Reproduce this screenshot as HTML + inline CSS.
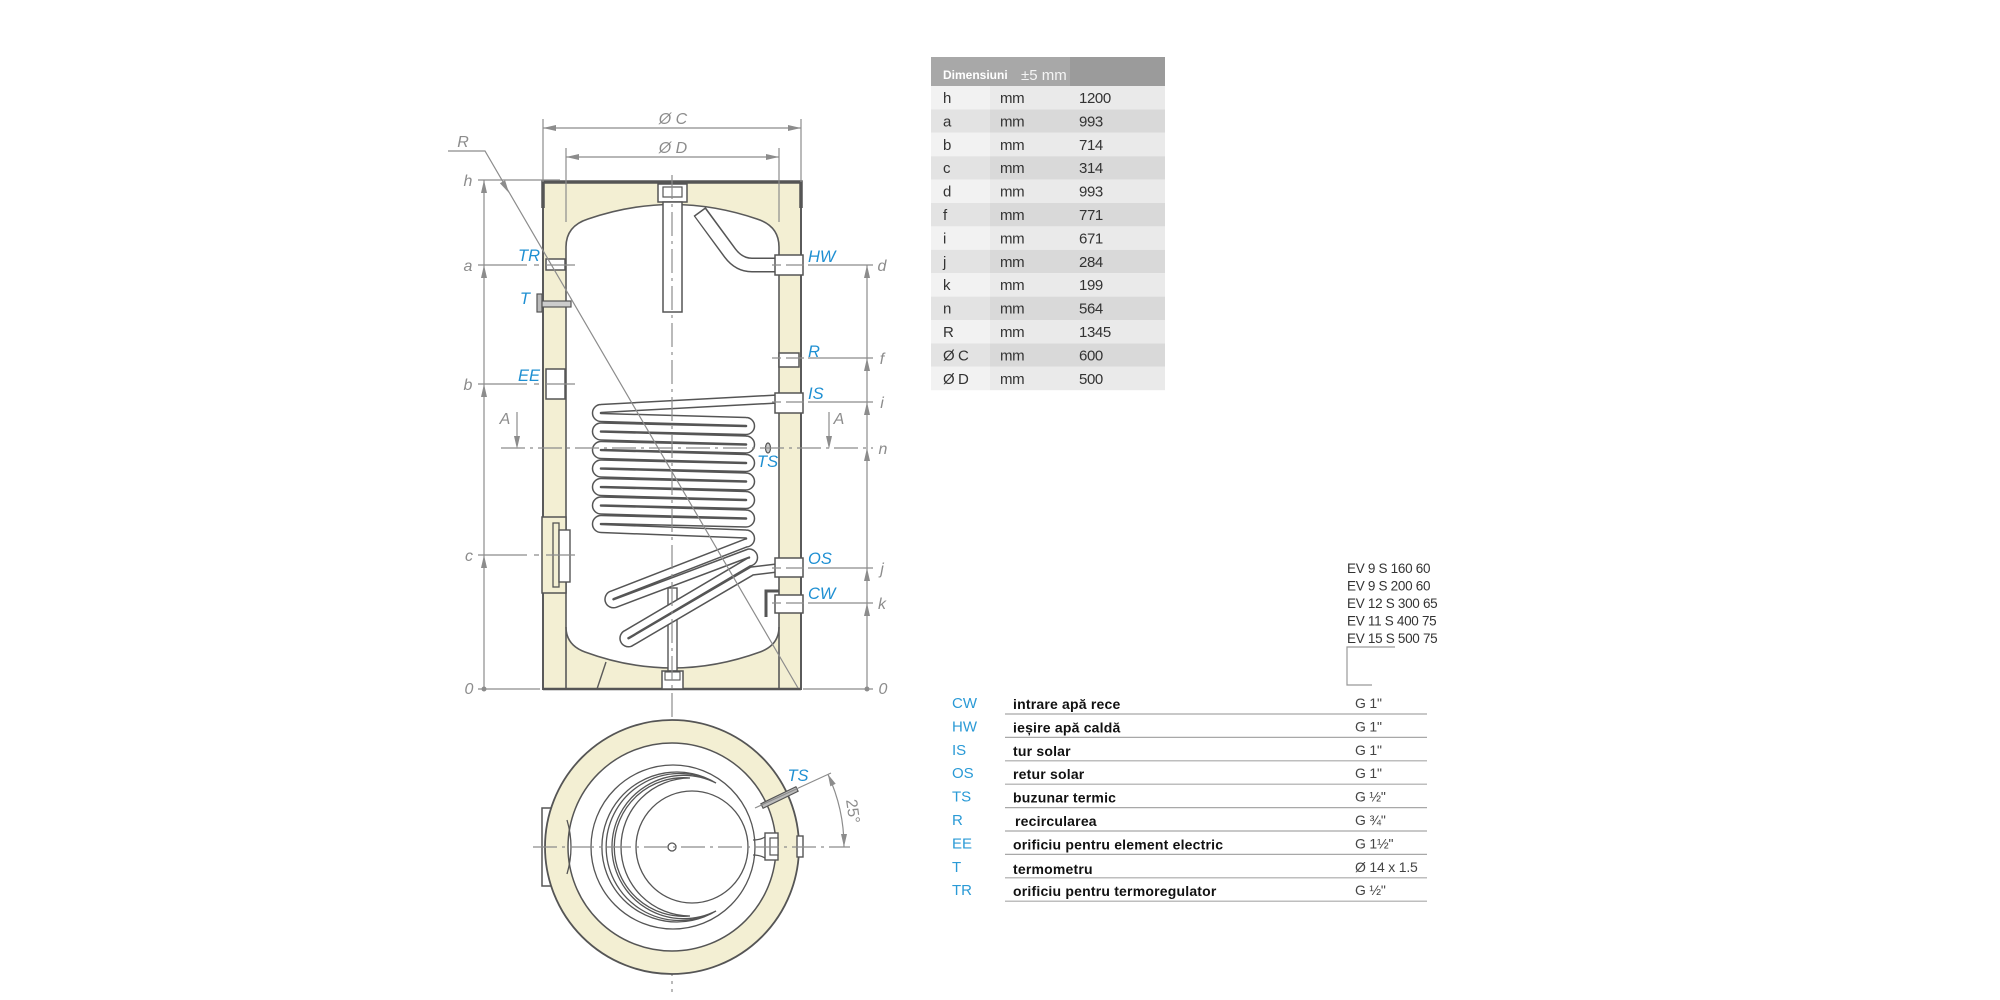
<!DOCTYPE html>
<html><head><meta charset="utf-8">
<style>
html,body{margin:0;padding:0;background:#fff;}
svg{display:block;}
</style></head><body>
<svg width="2000" height="1000" viewBox="0 0 2000 1000" xmlns="http://www.w3.org/2000/svg" font-family="'Liberation Sans', sans-serif">
<rect width="2000" height="1000" fill="#fff"/>

<!-- ===================== SIDE VIEW ===================== -->
<rect x="543" y="182" width="258" height="507" fill="#f3efd3" stroke="#5a5a5a" stroke-width="2"/>
<path d="M566 627 L566 247 Q566 226 588 219 Q672 190 757 219 Q779 226 779 247 L779 627 Q779 645 760 652 Q672 684 585 652 Q566 645 566 627 Z" fill="#fff" stroke="#5a5a5a" stroke-width="1.6"/>
<line x1="566" y1="627" x2="566" y2="689" stroke="#5a5a5a" stroke-width="1.6"/>
<line x1="779" y1="627" x2="779" y2="689" stroke="#5a5a5a" stroke-width="1.6"/>
<line x1="606" y1="662" x2="597" y2="689" stroke="#5a5a5a" stroke-width="1.4"/>
<line x1="543" y1="689" x2="801" y2="689" stroke="#555" stroke-width="2.5"/>
<path d="M543 208 L543 182 L801 182 L801 208" fill="none" stroke="#555" stroke-width="3.5"/>

<rect x="658" y="184" width="29" height="18" fill="#fff" stroke="#555" stroke-width="1.5"/>
<rect x="663" y="187" width="19" height="10" fill="none" stroke="#555" stroke-width="1.2"/>
<rect x="663" y="202" width="19" height="110" fill="#fff" stroke="#555" stroke-width="1.5"/>

<path d="M776 265 L752 265 Q739 265 730 253 L700 212" fill="none" stroke="#555" stroke-width="15" stroke-linejoin="round"/>
<path d="M777 265 L752 265 Q739 265 730 253 L699 211" fill="none" stroke="#fff" stroke-width="12" stroke-linejoin="round"/>
<line x1="694" y1="216.4" x2="706" y2="207.6" stroke="#555" stroke-width="1.5"/>

<rect x="668" y="588" width="9" height="83" fill="#fff" stroke="#555" stroke-width="1.4"/>
<rect x="662" y="671" width="21" height="18" fill="#fff" stroke="#555" stroke-width="1.5"/>
<rect x="665" y="672" width="15" height="8" fill="none" stroke="#555" stroke-width="1.1"/>

<!-- coil -->
<path d="M778 399 L601 408.5 A4.5 4.5 0 0 0 601 417.5 L746 421.5 A4.5 4.5 0 0 1 746 430.5
L601 427 A4.5 4.5 0 0 0 601 436 L746 440 A4.5 4.5 0 0 1 746 449
L601 445.5 A4.5 4.5 0 0 0 601 454.5 L746 458.5 A4.5 4.5 0 0 1 746 467.5
L601 464 A4.5 4.5 0 0 0 601 473 L746 477 A4.5 4.5 0 0 1 746 486
L601 482.5 A4.5 4.5 0 0 0 601 491.5 L746 495.5 A4.5 4.5 0 0 1 746 504.5
L601 501 A4.5 4.5 0 0 0 601 510 L746 514 A4.5 4.5 0 0 1 746 523
L601 519.5 A4.5 4.5 0 0 0 601 528.5 L746 534 A4.5 4.5 0 0 1 746 543
L612 595 A4.5 4.5 0 0 0 615 603.5 L749 553 A4.5 4.5 0 0 1 749 562
L627 634 A4.5 4.5 0 0 0 630 642.5 L752 571 L777 568" fill="none" stroke="#555" stroke-width="9.5" stroke-linejoin="round"/>
<path d="M778 399 L601 408.5 A4.5 4.5 0 0 0 601 417.5 L746 421.5 A4.5 4.5 0 0 1 746 430.5
L601 427 A4.5 4.5 0 0 0 601 436 L746 440 A4.5 4.5 0 0 1 746 449
L601 445.5 A4.5 4.5 0 0 0 601 454.5 L746 458.5 A4.5 4.5 0 0 1 746 467.5
L601 464 A4.5 4.5 0 0 0 601 473 L746 477 A4.5 4.5 0 0 1 746 486
L601 482.5 A4.5 4.5 0 0 0 601 491.5 L746 495.5 A4.5 4.5 0 0 1 746 504.5
L601 501 A4.5 4.5 0 0 0 601 510 L746 514 A4.5 4.5 0 0 1 746 523
L601 519.5 A4.5 4.5 0 0 0 601 528.5 L746 534 A4.5 4.5 0 0 1 746 543
L612 595 A4.5 4.5 0 0 0 615 603.5 L749 553 A4.5 4.5 0 0 1 749 562
L627 634 A4.5 4.5 0 0 0 630 642.5 L752 571 L777 568" fill="none" stroke="#fff" stroke-width="6.5" stroke-linejoin="round"/>

<g fill="#fff" stroke="#555" stroke-width="1.5">
<rect x="546" y="259" width="19" height="11"/>
<rect x="546" y="369" width="19" height="30"/>
<rect x="775" y="255" width="28" height="20"/>
<rect x="779" y="353" width="20" height="14"/>
<rect x="775" y="393" width="28" height="20"/>
<rect x="775" y="558" width="28" height="19"/>
<rect x="775" y="595" width="28" height="18"/>
</g>
<rect x="537" y="294" width="5" height="18" fill="#bbb" stroke="#555" stroke-width="1.2"/>
<rect x="542" y="301" width="29" height="6" fill="#ccc" stroke="#555" stroke-width="1.2"/>
<ellipse cx="768" cy="448" rx="2.5" ry="5" fill="#ccc" stroke="#555" stroke-width="1.2"/>
<path d="M766 617 L766 591 L779 591" fill="none" stroke="#555" stroke-width="3"/>
<rect x="542" y="517" width="24" height="76" fill="#f3efd3" stroke="#555" stroke-width="1.5"/>
<rect x="553" y="523" width="6" height="64" fill="none" stroke="#555" stroke-width="1.3"/>
<rect x="559" y="530" width="11" height="52" fill="#fff" stroke="#555" stroke-width="1.4"/>

<!-- ===================== DIMENSIONS ===================== -->
<g stroke="#8c8c8c" stroke-width="1.2" fill="none">
<line x1="672" y1="175" x2="672" y2="992" stroke-dasharray="24 5 3 5"/>
<line x1="543" y1="119" x2="543" y2="182"/>
<line x1="801" y1="119" x2="801" y2="182"/>
<line x1="543" y1="128" x2="801" y2="128"/>
<line x1="566" y1="148" x2="566" y2="222"/>
<line x1="779" y1="148" x2="779" y2="222"/>
<line x1="566" y1="157" x2="779" y2="157"/>
<line x1="484" y1="180" x2="484" y2="689"/>
<line x1="478" y1="180" x2="560" y2="180"/>
<path d="M478 265 H527 M534 265 H539 M546 265 H575"/>
<path d="M478 384 H527 M534 384 H539 M546 384 H575"/>
<path d="M478 555 H527 M534 555 H539 M546 555 H575"/>
<line x1="478" y1="689" x2="540" y2="689"/>
<line x1="867" y1="265" x2="867" y2="689"/>
<path d="M772 265 H781 M786 265 H804 M808 265 H873"/>
<path d="M772 358 H781 M786 358 H804 M808 358 H873"/>
<path d="M772 402 H781 M786 402 H804 M808 402 H873"/>
<path d="M772 568 H781 M786 568 H804 M808 568 H873"/>
<path d="M772 603 H781 M786 603 H804 M808 603 H873"/>
<line x1="803" y1="689" x2="873" y2="689"/>
<line x1="501" y1="448" x2="873" y2="448" stroke-dasharray="24 5 3 5"/>
<line x1="517" y1="412" x2="517" y2="438"/>
<line x1="829" y1="412" x2="829" y2="438"/>
<path d="M448 151 L485 151 L798 688"/>
</g>
<g fill="#8c8c8c">
<polygon points="543,128 556,125 556,131"/>
<polygon points="801,128 788,125 788,131"/>
<polygon points="566,157 579,154 579,160"/>
<polygon points="779,157 766,154 766,160"/>
<polygon points="484,180 481,193 487,193"/>
<polygon points="484,265 481,278 487,278"/>
<polygon points="484,384 481,397 487,397"/>
<polygon points="484,555 481,568 487,568"/>
<circle cx="484" cy="689" r="2.5"/>
<polygon points="867,265 864,278 870,278"/>
<polygon points="867,358 864,371 870,371"/>
<polygon points="867,402 864,415 870,415"/>
<polygon points="867,448 864,461 870,461"/>
<polygon points="867,568 864,581 870,581"/>
<polygon points="867,603 864,616 870,616"/>
<circle cx="867" cy="689" r="2.5"/>
<polygon points="517,449 514,436 520,436"/>
<polygon points="829,449 826,436 832,436"/>
<polygon points="509,193 505.1,180.3 499.9,183.3"/>
</g>

<g fill="#8c8c8c" font-style="italic" font-size="16" text-anchor="middle">
<text x="673" y="124">Ø C</text>
<text x="673" y="153">Ø D</text>
<text x="463" y="147">R</text>
<text x="468" y="186">h</text>
<text x="468" y="271">a</text>
<text x="468" y="390">b</text>
<text x="469" y="561">c</text>
<text x="469" y="694">0</text>
<text x="882" y="271">d</text>
<text x="882" y="364">f</text>
<text x="882" y="408">i</text>
<text x="883" y="454">n</text>
<text x="882" y="574">j</text>
<text x="882" y="609">k</text>
<text x="883" y="694">0</text>
<text x="505" y="424">A</text>
<text x="839" y="424">A</text>
</g>
<g fill="#1e8fd2" font-style="italic" font-size="16.5">
<text x="540" y="261" text-anchor="end">TR</text>
<text x="530" y="304" text-anchor="end">T</text>
<text x="540" y="381" text-anchor="end">EE</text>
<text x="808" y="262">HW</text>
<text x="808" y="357">R</text>
<text x="808" y="399">IS</text>
<text x="757" y="467">TS</text>
<text x="808" y="564">OS</text>
<text x="808" y="599">CW</text>
</g>

<!-- ===================== BOTTOM VIEW ===================== -->
<rect x="542" y="808" width="10" height="78" fill="#fff" stroke="#555" stroke-width="1.5"/>
<circle cx="672" cy="847" r="127" fill="#f3efd3" stroke="#555" stroke-width="1.8"/>
<circle cx="672" cy="847" r="104" fill="#fff" stroke="#555" stroke-width="1.5"/>
<path d="M567 820 Q575 847 567 874" fill="none" stroke="#555" stroke-width="1.3"/>
<circle cx="673" cy="847" r="82" fill="none" stroke="#555" stroke-width="1.3"/>
<g fill="none" stroke="#555" stroke-width="1.3">
<path d="M716 783 A75 75 0 1 0 716 911 A71.7 71.7 0 1 1 716 783 Z"/>
<path d="M712 781 A73.5 73.5 0 1 0 712 913"/>
<path d="M690 778 A69 69 0 1 0 690 916 A69.3 69.3 0 1 1 690 778 Z"/>
<circle cx="692" cy="847" r="56"/>
<circle cx="672" cy="847" r="4"/>
<path d="M753 840 Q760 840 765 837 M753 855 Q760 855 765 858"/>
</g>
<rect x="765" y="833" width="13" height="27" fill="#fff" stroke="#555" stroke-width="1.4"/>
<rect x="770" y="838" width="8" height="17" fill="#fff" stroke="#555" stroke-width="1.2"/>
<rect x="797" y="836" width="6" height="21" fill="#fff" stroke="#555" stroke-width="1.4"/>
<polygon points="760.9,803.75 795.9,786.75 798.1,791.25 763.1,808.25" fill="#bbb" stroke="#555" stroke-width="1.2"/>
<g stroke="#8c8c8c" stroke-width="1.2" fill="none">
<line x1="533" y1="847" x2="850" y2="847" stroke-dasharray="24 5 3 5"/>
<line x1="755" y1="808" x2="831" y2="773"/>
<path d="M827.9 774.2 A172 172 0 0 1 844 847"/>
</g>
<g fill="#8c8c8c">
<polygon points="844,847 841,834 847,834"/>
<polygon points="827.9,774.2 835.7,783.8 830.3,786.4"/>
</g>
<text x="0" y="0" transform="translate(846 800) rotate(82)" fill="#8c8c8c" font-size="16">25°</text>
<text x="798" y="781" text-anchor="middle" fill="#1e8fd2" font-style="italic" font-size="16.5">TS</text>

<!-- ===================== DIMENSION TABLE ===================== -->
<rect x="931" y="57" width="139" height="29" fill="#a8a8a8"/>
<rect x="1070" y="57" width="95" height="29" fill="#9b9b9b"/>
<text x="943" y="79" fill="#fff" font-weight="bold" font-size="12">Dimensiuni</text>
<text x="1021" y="80" fill="#f4f4f4" font-size="15">±5 mm</text>
<g>
<rect x="931" y="86" width="59" height="23.4" fill="#f2f2f2"/><rect x="990" y="86" width="175" height="23.4" fill="#eaeaea"/>
<rect x="931" y="109.4" width="59" height="23.4" fill="#e3e3e3"/><rect x="990" y="109.4" width="175" height="23.4" fill="#d9d9d9"/>
<rect x="931" y="132.8" width="59" height="23.4" fill="#f2f2f2"/><rect x="990" y="132.8" width="175" height="23.4" fill="#eaeaea"/>
<rect x="931" y="156.2" width="59" height="23.4" fill="#e3e3e3"/><rect x="990" y="156.2" width="175" height="23.4" fill="#d9d9d9"/>
<rect x="931" y="179.6" width="59" height="23.4" fill="#f2f2f2"/><rect x="990" y="179.6" width="175" height="23.4" fill="#eaeaea"/>
<rect x="931" y="203" width="59" height="23.4" fill="#e3e3e3"/><rect x="990" y="203" width="175" height="23.4" fill="#d9d9d9"/>
<rect x="931" y="226.4" width="59" height="23.4" fill="#f2f2f2"/><rect x="990" y="226.4" width="175" height="23.4" fill="#eaeaea"/>
<rect x="931" y="249.8" width="59" height="23.4" fill="#e3e3e3"/><rect x="990" y="249.8" width="175" height="23.4" fill="#d9d9d9"/>
<rect x="931" y="273.2" width="59" height="23.4" fill="#f2f2f2"/><rect x="990" y="273.2" width="175" height="23.4" fill="#eaeaea"/>
<rect x="931" y="296.6" width="59" height="23.4" fill="#e3e3e3"/><rect x="990" y="296.6" width="175" height="23.4" fill="#d9d9d9"/>
<rect x="931" y="320" width="59" height="23.4" fill="#f2f2f2"/><rect x="990" y="320" width="175" height="23.4" fill="#eaeaea"/>
<rect x="931" y="343.4" width="59" height="23.4" fill="#e3e3e3"/><rect x="990" y="343.4" width="175" height="23.4" fill="#d9d9d9"/>
<rect x="931" y="366.8" width="59" height="23.4" fill="#f2f2f2"/><rect x="990" y="366.8" width="175" height="23.4" fill="#eaeaea"/>
</g>
<g fill="#333" font-size="15" letter-spacing="-0.4">
<text x="943" y="103">h</text><text x="1000" y="103">mm</text><text x="1079" y="103">1200</text>
<text x="943" y="126.4">a</text><text x="1000" y="126.4">mm</text><text x="1079" y="126.4">993</text>
<text x="943" y="149.8">b</text><text x="1000" y="149.8">mm</text><text x="1079" y="149.8">714</text>
<text x="943" y="173.2">c</text><text x="1000" y="173.2">mm</text><text x="1079" y="173.2">314</text>
<text x="943" y="196.6">d</text><text x="1000" y="196.6">mm</text><text x="1079" y="196.6">993</text>
<text x="943" y="220">f</text><text x="1000" y="220">mm</text><text x="1079" y="220">771</text>
<text x="943" y="243.4">i</text><text x="1000" y="243.4">mm</text><text x="1079" y="243.4">671</text>
<text x="943" y="266.8">j</text><text x="1000" y="266.8">mm</text><text x="1079" y="266.8">284</text>
<text x="943" y="290.2">k</text><text x="1000" y="290.2">mm</text><text x="1079" y="290.2">199</text>
<text x="943" y="313.6">n</text><text x="1000" y="313.6">mm</text><text x="1079" y="313.6">564</text>
<text x="943" y="337">R</text><text x="1000" y="337">mm</text><text x="1079" y="337">1345</text>
<text x="943" y="360.4">Ø C</text><text x="1000" y="360.4">mm</text><text x="1079" y="360.4">600</text>
<text x="943" y="383.8">Ø D</text><text x="1000" y="383.8">mm</text><text x="1079" y="383.8">500</text>
</g>

<!-- ===================== MODEL LIST ===================== -->
<g fill="#333" font-size="13.5" letter-spacing="-0.3">
<text x="1347" y="573">EV 9 S 160 60</text>
<text x="1347" y="590.5">EV 9 S 200 60</text>
<text x="1347" y="608">EV 12 S 300 65</text>
<text x="1347" y="625.5">EV 11 S 400 75</text>
<text x="1347" y="643">EV 15 S 500 75</text>
</g>
<path d="M1395 647 H1347 V685 H1372" fill="none" stroke="#999" stroke-width="1.2"/>

<!-- ===================== CONNECTIONS TABLE ===================== -->
<g stroke="#a8a8a8" stroke-width="1.2">
<line x1="1005" y1="714" x2="1427" y2="714"/>
<line x1="1005" y1="737.4" x2="1427" y2="737.4"/>
<line x1="1005" y1="760.8" x2="1427" y2="760.8"/>
<line x1="1005" y1="784.2" x2="1427" y2="784.2"/>
<line x1="1005" y1="807.6" x2="1427" y2="807.6"/>
<line x1="1005" y1="831" x2="1427" y2="831"/>
<line x1="1005" y1="854.4" x2="1427" y2="854.4"/>
<line x1="1005" y1="877.8" x2="1427" y2="877.8"/>
<line x1="1005" y1="901.2" x2="1427" y2="901.2"/>
</g>
<g fill="#2a9ad6" font-size="15">
<text x="952" y="708">CW</text>
<text x="952" y="731.4">HW</text>
<text x="952" y="754.8">IS</text>
<text x="952" y="778.2">OS</text>
<text x="952" y="801.6">TS</text>
<text x="952" y="825">R</text>
<text x="952" y="848.4">EE</text>
<text x="952" y="871.8">T</text>
<text x="952" y="895.2">TR</text>
</g>
<g fill="#111" font-size="14" font-weight="bold" letter-spacing="0.2">
<text x="1013" y="709">intrare apă rece</text>
<text x="1013" y="732.4">ieșire apă caldă</text>
<text x="1013" y="755.8">tur solar</text>
<text x="1013" y="779.2">retur solar</text>
<text x="1013" y="802.6">buzunar termic</text>
<text x="1015" y="826">recircularea</text>
<text x="1013" y="849.4">orificiu pentru element electric</text>
<text x="1013" y="873.8">termometru</text>
<text x="1013" y="896.2">orificiu pentru termoregulator</text>
</g>
<g fill="#444" font-size="14" letter-spacing="-0.2">
<text x="1355" y="708">G 1"</text>
<text x="1355" y="731.4">G 1"</text>
<text x="1355" y="754.8">G 1"</text>
<text x="1355" y="778.2">G 1"</text>
<text x="1355" y="801.6">G ½"</text>
<text x="1355" y="825">G ¾"</text>
<text x="1355" y="848.4">G 1½"</text>
<text x="1355" y="871.8">Ø 14 x 1.5</text>
<text x="1355" y="895.2">G ½"</text>
</g>
</svg>
</body></html>
